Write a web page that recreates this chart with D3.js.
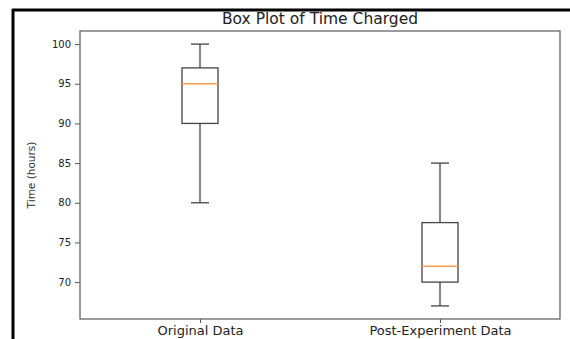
<!DOCTYPE html>
<html>
<head>
<meta charset="utf-8">
<script src="https://cdn.jsdelivr.net/npm/d3@7"></script>
<style>
  body { margin: 0; background: #fff; }
  svg { display: block; font-family: "DejaVu Sans", sans-serif; }
</style>
</head>
<body>
<div id="chart"></div>
<script>
"use strict";

const categories = ["Original Data", "Post-Experiment Data"];
const whiskerLow = [80, 67];
const q1 = [90, 70];
const median = [95, 72];
const q3 = [97, 77.5];
const whiskerHigh = [100, 85];
const yTicks = [70, 75, 80, 85, 90, 95, 100];

const svgWidth = 570;
const svgHeight = 339;
const plot = { left: 80, right: 560, top: 31, bottom: 319 };

const boxes = categories.map((c, i) => ({
  name: c,
  lo: whiskerLow[i],
  q1: q1[i],
  med: median[i],
  q3: q3[i],
  hi: whiskerHigh[i]
}));

const svg = d3.select("#chart")
  .append("svg")
  .attr("width", svgWidth)
  .attr("height", svgHeight)
;

// outer frame lines (only top and left show in the crop)
svg.append("line")
  .attr("x1", 12).attr("x2", svgWidth)
  .attr("y1", 10).attr("y2", 10)
  .attr("stroke", "#000").attr("stroke-width", 3)
;
svg.append("line")
  .attr("x1", 13).attr("x2", 13)
  .attr("y1", 9).attr("y2", svgHeight)
  .attr("stroke", "#000").attr("stroke-width", 3)
;

// matplotlib-like margins: 5% of the data range
const yMin = d3.min(whiskerLow), yMax = d3.max(whiskerHigh);
const yPad = (yMax - yMin) * 0.05;

const xScale = d3.scalePoint()
  .domain(categories)
  .range([plot.left, plot.right])
  .padding(0.5)
;
const yScale = d3.scaleLinear()
  .domain([yMin - yPad, yMax + yPad])
  .range([plot.bottom, plot.top])
;

const boxW = xScale.step() * 0.15;

const yAxis = d3.axisLeft(yScale)
  .tickValues(yTicks)
  .tickSize(5)
  .tickPadding(4)
  .tickSizeOuter(0)
;
const xAxis = d3.axisBottom(xScale)
  .tickSize(4)
  .tickPadding(3)
  .tickSizeOuter(0)
;

const gy = svg.append("g")
  .attr("transform", `translate(${plot.left}, 0)`)
  .call(yAxis)
;
gy.select(".domain").remove();
gy.selectAll(".tick line").attr("stroke", "#555");
gy.selectAll(".tick text")
  .attr("font-size", 10)
  .attr("fill", "#222")
  .attr("font-family", "DejaVu Sans")
;

const gx = svg.append("g")
  .attr("transform", `translate(0, ${plot.bottom})`)
  .call(xAxis)
;
gx.select(".domain").remove();
gx.selectAll(".tick line").attr("stroke", "#555");
gx.selectAll(".tick text")
  .attr("font-size", 13)
  .attr("fill", "#222")
  .attr("font-family", "DejaVu Sans")
;

// plot frame
svg.append("rect")
  .attr("x", plot.left)
  .attr("y", plot.top)
  .attr("width", plot.right - plot.left)
  .attr("height", plot.bottom - plot.top)
  .attr("fill", "none")
  .attr("stroke", "#666")
  .attr("stroke-width", 1.3)
;

const g = svg.selectAll(".box")
  .data(boxes)
  .enter()
  .append("g")
  .attr("class", "box")
;

// whiskers
g.append("line")
  .attr("x1", d => xScale(d.name)).attr("x2", d => xScale(d.name))
  .attr("y1", d => yScale(d.lo)).attr("y2", d => yScale(d.q1))
  .attr("stroke", "#444").attr("stroke-width", 1.3)
;
g.append("line")
  .attr("x1", d => xScale(d.name)).attr("x2", d => xScale(d.name))
  .attr("y1", d => yScale(d.q3)).attr("y2", d => yScale(d.hi))
  .attr("stroke", "#444").attr("stroke-width", 1.3)
;
// caps
g.selectAll(".cap")
  .data(d => [d.lo, d.hi].map(v => ({ name: d.name, v })))
  .enter()
  .append("line")
  .attr("class", "cap")
  .attr("x1", d => xScale(d.name) - boxW / 4)
  .attr("x2", d => xScale(d.name) + boxW / 4)
  .attr("y1", d => yScale(d.v)).attr("y2", d => yScale(d.v))
  .attr("stroke", "#444").attr("stroke-width", 1.3)
;
// box
g.append("rect")
  .attr("x", d => xScale(d.name) - boxW / 2)
  .attr("y", d => yScale(d.q3))
  .attr("width", boxW)
  .attr("height", d => yScale(d.q1) - yScale(d.q3))
  .attr("fill", "none")
  .attr("stroke", "#444").attr("stroke-width", 1.3)
;
// median
g.append("line")
  .attr("x1", d => xScale(d.name) - boxW / 2)
  .attr("x2", d => xScale(d.name) + boxW / 2)
  .attr("y1", d => yScale(d.med)).attr("y2", d => yScale(d.med))
  .attr("stroke", "#ff9a4a").attr("stroke-width", 1.5)
;

// title
svg.append("text")
  .attr("x", (plot.left + plot.right) / 2)
  .attr("y", 24)
  .attr("text-anchor", "middle")
  .attr("font-size", 15.5)
  .attr("fill", "#222")
  .text("Box Plot of Time Charged")
;

// y label
svg.append("text")
  .attr("transform", `translate(35, ${(plot.top + plot.bottom) / 2}) rotate(-90)`)
  .attr("text-anchor", "middle")
  .attr("font-size", 10.5)
  .attr("fill", "#333")
  .text("Time (hours)")
;
</script>
</body>
</html>
